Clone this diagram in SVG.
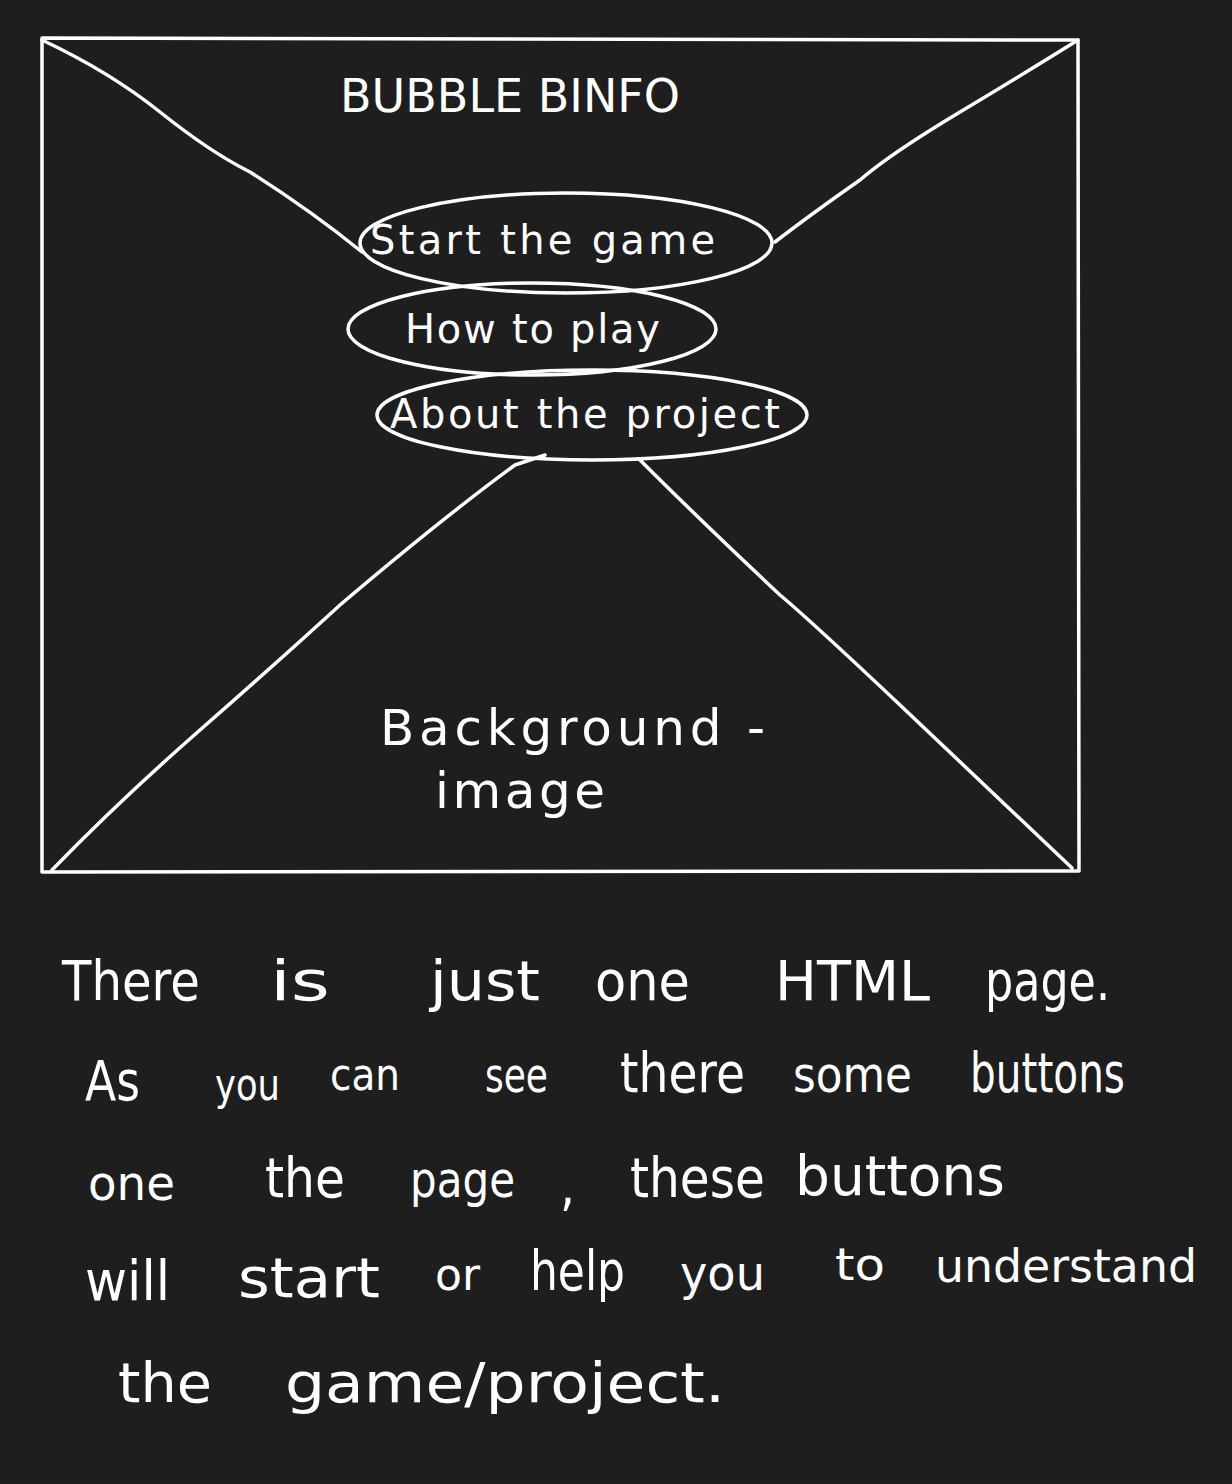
<svg xmlns="http://www.w3.org/2000/svg" width="1232" height="1484" viewBox="0 0 1232 1484">
<style>
.ln{fill:none;stroke:#ffffff;stroke-width:3.5;stroke-linecap:round;stroke-linejoin:round}
.t{fill:#ffffff;font-family:"DejaVu Sans","Liberation Sans",sans-serif;font-weight:normal}
.b{font-size:40px}
.n{font-size:56px}
</style>
<rect width="1232" height="1484" fill="#1e1e1e"/>
<g id="frame">
<path class="ln" d="M42,38 L1078,40 L1079,871 L42,872 Z"/>
</g>
<g id="connectors">
<path class="ln" d="M42,40 Q110,72 160,112 T250,172 Q310,210 362,252"/>
<path class="ln" d="M1078,40 Q1030,70 960,112 T860,180 Q810,215 775,242"/>
<path class="ln" d="M52,870 Q120,800 200,730 T340,605 Q440,520 515,465 L545,455"/>
<path class="ln" d="M1072,868 Q990,790 900,705 T780,595 Q700,520 640,460"/>
</g>
<g id="title">
<text class="t" x="510" y="112" font-size="46" text-anchor="middle" textLength="340" lengthAdjust="spacingAndGlyphs">BUBBLE BINFO</text>
</g>
<g id="btn-start">
<ellipse class="ln" cx="566" cy="243" rx="206" ry="50"/>
<text class="t b" x="370" y="254" textLength="345" lengthAdjust="spacing">Start the game</text>
</g>
<g id="btn-how">
<ellipse class="ln" cx="532" cy="329" rx="184" ry="46"/>
<text class="t b" x="405" y="343" textLength="255" lengthAdjust="spacing">How to play</text>
</g>
<g id="btn-about">
<ellipse class="ln" cx="592" cy="415" rx="215" ry="45"/>
<text class="t b" x="390" y="428" textLength="390" lengthAdjust="spacing">About the project</text>
</g>
<g id="background-label">
<text class="t" x="380" y="745" font-size="50" textLength="385" lengthAdjust="spacing">Background -</text>
<text class="t" x="435" y="808" font-size="50" textLength="170" lengthAdjust="spacing">image</text>
</g>
<g id="notes" class="t n">
<text x="62" y="1000" textLength="138" lengthAdjust="spacingAndGlyphs">There</text>
<text x="270" y="1000" textLength="60" lengthAdjust="spacingAndGlyphs">is</text>
<text x="430" y="1000" textLength="110" lengthAdjust="spacingAndGlyphs">just</text>
<text x="595" y="1000" textLength="95" lengthAdjust="spacingAndGlyphs">one</text>
<text x="775" y="1000" textLength="155" lengthAdjust="spacingAndGlyphs">HTML</text>
<text x="985" y="1000" textLength="125" lengthAdjust="spacingAndGlyphs">page.</text>
<text x="85" y="1100" textLength="55" lengthAdjust="spacingAndGlyphs">As</text>
<text x="215" y="1100" textLength="65" lengthAdjust="spacingAndGlyphs" font-size="44">you</text>
<text x="330" y="1090" textLength="70" lengthAdjust="spacingAndGlyphs" font-size="44">can</text>
<text x="485" y="1092" textLength="63" lengthAdjust="spacingAndGlyphs" font-size="48">see</text>
<text x="620" y="1092" textLength="125" lengthAdjust="spacingAndGlyphs">there</text>
<text x="793" y="1092" textLength="119" lengthAdjust="spacingAndGlyphs" font-size="50">some</text>
<text x="970" y="1092" textLength="155" lengthAdjust="spacingAndGlyphs">buttons</text>
<text x="88" y="1200" textLength="87" lengthAdjust="spacingAndGlyphs" font-size="48">one</text>
<text x="265" y="1197" textLength="80" lengthAdjust="spacingAndGlyphs">the</text>
<text x="410" y="1197" textLength="105" lengthAdjust="spacingAndGlyphs" font-size="50">page</text>
<text x="560" y="1205" textLength="15" lengthAdjust="spacingAndGlyphs">,</text>
<text x="630" y="1197" textLength="135" lengthAdjust="spacingAndGlyphs">these</text>
<text x="795" y="1195" textLength="210" lengthAdjust="spacingAndGlyphs">buttons</text>
<text x="85" y="1300" textLength="85" lengthAdjust="spacingAndGlyphs">will</text>
<text x="238" y="1297" textLength="142" lengthAdjust="spacingAndGlyphs">start</text>
<text x="435" y="1290" textLength="45" lengthAdjust="spacingAndGlyphs" font-size="44">or</text>
<text x="530" y="1290" textLength="95" lengthAdjust="spacingAndGlyphs">help</text>
<text x="680" y="1290" textLength="85" lengthAdjust="spacingAndGlyphs" font-size="48">you</text>
<text x="835" y="1280" textLength="50" lengthAdjust="spacingAndGlyphs" font-size="44">to</text>
<text x="935" y="1282" textLength="262" lengthAdjust="spacingAndGlyphs" font-size="46">understand</text>
<text x="118" y="1402" textLength="94" lengthAdjust="spacingAndGlyphs">the</text>
<text x="285" y="1402" textLength="440" lengthAdjust="spacingAndGlyphs">game/project.</text>
</g>
</svg>
